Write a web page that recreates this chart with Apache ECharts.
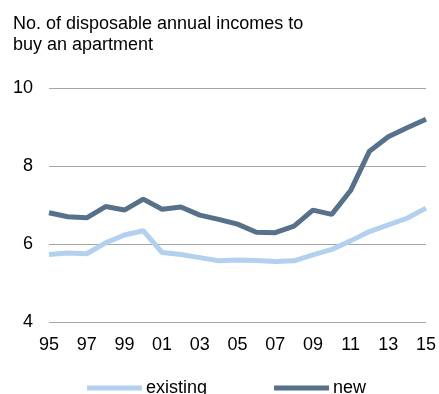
<!DOCTYPE html>
<html>
<head>
<meta charset="utf-8">
<script src="https://cdn.jsdelivr.net/npm/echarts@6/dist/echarts.min.js"></script>
<style>
  html, body { margin: 0; padding: 0; background: #fff; }
  #chart { width: 439px; height: 394px; }
</style>
</head>
<body>
<div id="chart"></div>
<script>
// years 1995-2015, shown as two-digit labels
const years = ["95", "96", "97", "98", "99", "00", "01", "02", "03", "04", "05",
  "06", "07", "08", "09", "10", "11", "12", "13", "14", "15"];

const existing = [5.73, 5.77, 5.75, 6.03, 6.23, 6.34, 5.78, 5.73, 5.65, 5.57, 5.59,
  5.58, 5.55, 5.57, 5.72, 5.86, 6.08, 6.32, 6.49, 6.66, 6.92];

const newBuilt = [6.80, 6.70, 6.67, 6.96, 6.87, 7.15, 6.89, 6.95, 6.74, 6.63, 6.51,
  6.30, 6.29, 6.46, 6.87, 6.76, 7.37, 8.38, 8.75, 8.98, 9.20];

const chart = echarts.init(document.getElementById("chart"));

const font = "Liberation Sans, Arial, sans-serif";

chart.setOption({
  animation: false,
  textStyle: { fontFamily: font },
  title: {
    text: "No. of disposable annual incomes to\nbuy an apartment",
    left: 8,
    top: 9,
    textStyle: {
      fontFamily: font,
      fontSize: 18,
      fontWeight: "normal",
      color: "#000",
      lineHeight: 21
    }
  },
  grid: {
    left: 49,
    right: 10,
    top: 88,
    bottom: 72
  },
  xAxis: {
    type: "category",
    data: years,
    boundaryGap: false,
    axisLine: { show: false },
    axisTick: { show: false },
    axisLabel: {
      interval: 1,
      margin: 14,
      color: "#000",
      fontSize: 18,
      fontFamily: font
    }
  },
  yAxis: {
    type: "value",
    min: 4,
    max: 10,
    interval: 2,
    axisLine: { show: false },
    axisTick: { show: false },
    axisLabel: {
      margin: 16,
      color: "#000",
      fontSize: 18,
      fontFamily: font
    },
    splitLine: {
      lineStyle: { color: "#a6a6a6", width: 1 }
    }
  },
  legend: {
    top: 374,
    left: 82,
    itemGap: 67,
    itemWidth: 55,
    itemHeight: 5,
    icon: "rect",
    textStyle: {
      fontFamily: font,
      fontSize: 18,
      color: "#000",
      padding: [0, 0, 0, -1]
    },
    data: ["existing", "new"]
  },
  series: [
    {
      name: "existing",
      type: "line",
      data: existing,
      showSymbol: false,
      symbol: "none",
      lineStyle: { color: "#b3d0ef", width: 5 },
      itemStyle: { color: "#b3d0ef" }
    },
    {
      name: "new",
      type: "line",
      data: newBuilt,
      showSymbol: false,
      symbol: "none",
      lineStyle: { color: "#58718a", width: 5 },
      itemStyle: { color: "#58718a" }
    }
  ]
});
</script>
</body>
</html>
